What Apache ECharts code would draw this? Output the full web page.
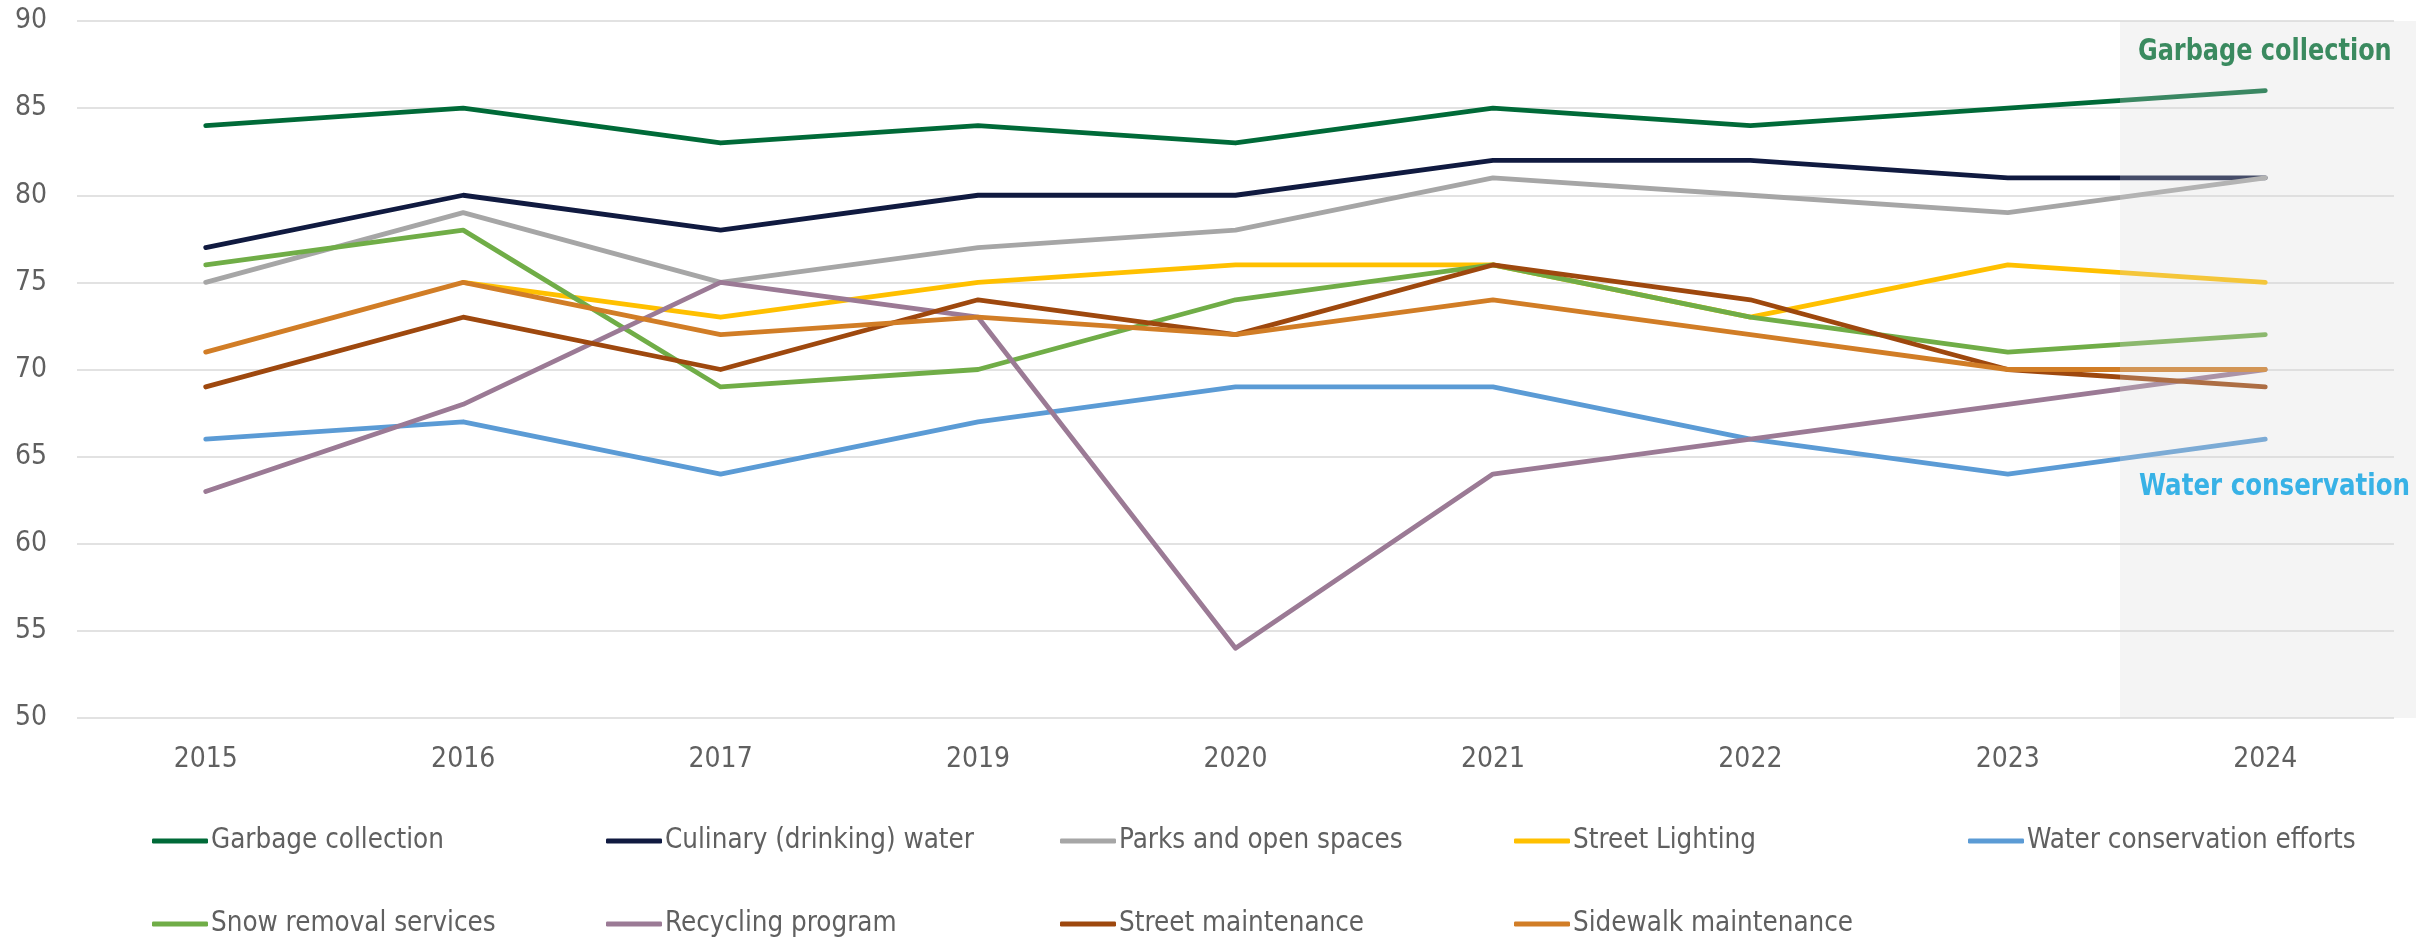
<!DOCTYPE html>
<html>
<head>
<meta charset="utf-8">
<script src="https://cdn.jsdelivr.net/npm/echarts@6/dist/echarts.min.js"></script>
<style>
html,body{margin:0;padding:0;background:#fff;}
#c{width:2433px;height:939px;}
</style>
</head>
<body>
<div id="c"></div>
<script>
var years = ['2015','2016','2017','2019','2020','2021','2022','2023','2024'];
var yTicks = [50,55,60,65,70,75,80,85,90];

var garbage    = [84,85,83,84,83,85,84,85,86];
var culinary   = [77,80,78,80,80,82,82,81,81];
var parks      = [75,79,75,77,78,81,80,79,81];
var lighting   = [null,75,73,75,76,76,73,76,75];
var water      = [66,67,64,67,69,69,66,64,66];
var snow       = [76,78,69,70,74,76,73,71,72];
var recycling  = [63,68,75,73,54,64,66,68,70];
var streetMnt  = [69,73,70,74,72,76,74,70,69];
var sidewalk   = [71,75,72,73,72,74,72,70,70];

var names = ['Garbage collection','Culinary (drinking) water','Parks and open spaces','Street Lighting','Water conservation efforts','Snow removal services','Recycling program','Street maintenance','Sidewalk maintenance'];
var colors = ['#006a38','#101a40','#a6a6a6','#ffc000','#5b9bd5','#70ad47','#9b7a95','#9e480e','#d17d26'];
var datas = [garbage,culinary,parks,lighting,water,snow,recycling,streetMnt,sidewalk];

var FONT = "'DejaVu Sans Condensed','Liberation Sans Narrow',sans-serif";

var series = names.map(function(n,i){
  return {
    name:n, type:'line', data:datas[i], symbol:'none', showSymbol:false,
    connectNulls:false,
    lineStyle:{color:colors[i], width:4.8, cap:'round', join:'round'},
    itemStyle:{color:colors[i]},
    z: 2 + i*0.01
  };
});

function legendCfg(data, top){
  return {
    data:data, left:147, top:top, orient:'horizontal',
    itemWidth:56, itemHeight:5, itemGap:0, icon:'roundRect',
    selectedMode:false,
    textStyle:{fontFamily:FONT, fontSize:27.5, color:'#606060', width:395, lineHeight:34, padding:[0,0,0,-2]}
  };
}

var chart = echarts.init(document.getElementById('c'));
chart.setOption({
  animation:false,
  backgroundColor:'#ffffff',
  grid:{left:77, right:39, top:21, bottom:221, containLabel:false},
  xAxis:{
    type:'category', data:years, boundaryGap:true,
    axisLine:{show:false}, axisTick:{show:false},
    axisLabel:{fontFamily:FONT, fontSize:28, color:'#606060', margin:28}
  },
  yAxis:{
    type:'value', min:50, max:90, interval:5,
    axisLine:{show:false}, axisTick:{show:false},
    axisLabel:{fontFamily:FONT, fontSize:28, color:'#606060', margin:30},
    splitLine:{lineStyle:{color:'#d9d9d9', width:1.5}}
  },
  legend:[legendCfg(names.slice(0,5), 819), legendCfg(names.slice(5), 902)],
  series:series,
  graphic:{elements:[
    {type:'rect', z:100, shape:{x:2120, y:21, width:296, height:697}, style:{fill:'rgba(215,215,215,0.27)'}, silent:true},
    {type:'text', z:101, x:2138, y:36, scaleX:0.86, style:{text:'Garbage collection', fill:'#3a8a5f', font:'bold 31px '+FONT}},
    {type:'text', z:101, x:2139, y:471, scaleX:0.88, style:{text:'Water conservation', fill:'#38b2e6', font:'bold 31px '+FONT}}
  ]}
});
</script>
</body>
</html>
